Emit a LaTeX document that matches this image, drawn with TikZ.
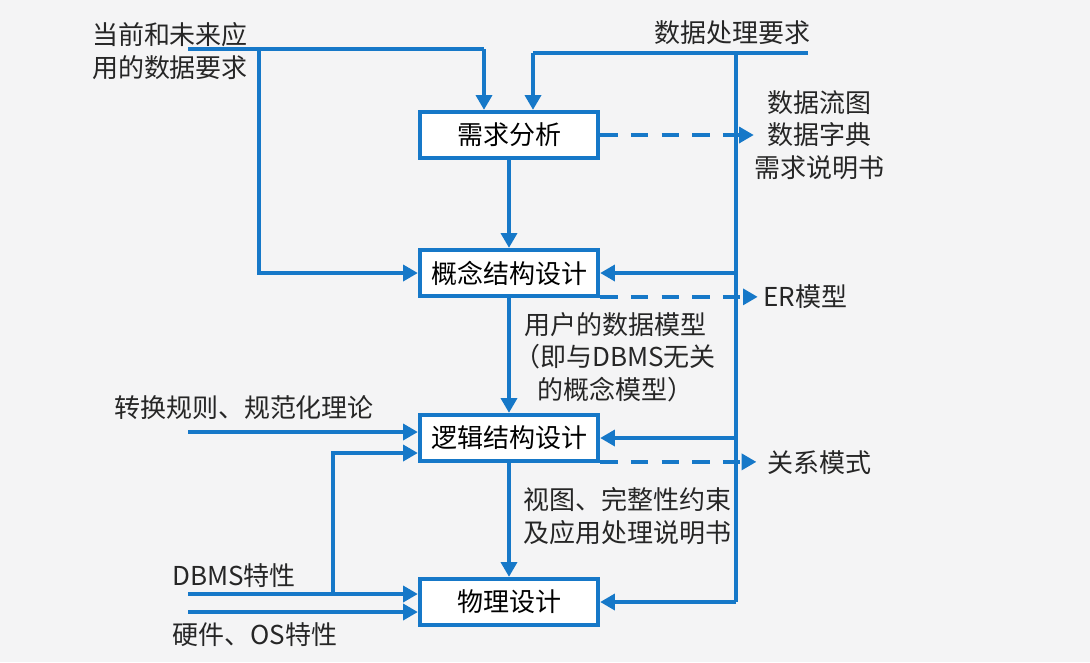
\documentclass[tikz,border=0pt]{standalone}
\usepackage{fontspec}
\setmainfont{Noto Sans CJK SC}
\usetikzlibrary{arrows.meta}
\definecolor{lb}{RGB}{22,120,200}
\definecolor{bg}{RGB}{244,244,245}
\begin{document}
\begin{tikzpicture}[x=0.75pt,y=-0.75pt,
  font=\fontsize{19.5pt}{24.5pt}\selectfont,
  stage/.style={draw=lb,line width=2.8pt,fill=white,minimum width=134pt,minimum height=35pt,inner sep=0pt},
  wire/.style={draw=lb,line width=2.5pt},
  flow/.style={wire,-{Triangle[length=11pt,width=12pt]}},
  outp/.style={flow,dash pattern=on 13pt off 10pt},
  lbl/.style={inner sep=0pt,text=black!85}]
\fill[bg] (0,0) rectangle (1090,662);
\useasboundingbox (0,0) rectangle (1090,662);

% coordinates for free ends / bends
\coordinate (a0) at (188,49);
\coordinate (ka) at (484,49);
\coordinate (kb) at (259,49);
\coordinate (b0) at (808,53);
\coordinate (kc) at (533,53);
\coordinate (kd) at (736,53);
\coordinate (c1) at (188,432);
\coordinate (c2) at (188,594);
\coordinate (c3) at (333,594);
\coordinate (c4) at (333,453);
\coordinate (c5) at (188,612);

% stages
\node[stage] (req) at (509,135) {需求分析};
\node[stage] (con) at (509,273) {概念结构设计};
\node[stage] (log) at (509,438) {逻辑结构设计};
\node[stage] (phy) at (509,602) {物理设计};

% labels
\node[lbl,align=left] (t1) at (170,51) {当前和未来应\\用的数据要求};
\node[lbl] (t2) at (732,33) {数据处理要求};
\node[lbl,align=center] (o1) at (819,135) {数据流图\\数据字典\\需求说明书};
\node[lbl,anchor=west] (o2) at (763,297) {ER模型};
\node[lbl,anchor=west] (o3) at (767,463) {关系模式};
\node[lbl,align=center] (m1) at (615,357) {用户的数据模型\\（即与DBMS无关\\的概念模型）};
\node[lbl,align=left] (m2) at (627,516) {视图、完整性约束\\及应用处理说明书};
\node[lbl] (i1) at (244,408) {转换规则、规范化理论};
\node[lbl,anchor=west] (i2) at (172,576) {DBMS特性};
\node[lbl,anchor=west] (i3) at (172,635) {硬件、OS特性};

% plain wires
\draw[wire] (a0) -- (ka);
\draw[wire] (b0) -- (kc);
\draw[wire] (kd) -- (kd |- phy.east);

% connectors
\draw[flow] (ka) -- (ka |- req.north);
\draw[flow] (kb) |- (con.west);
\draw[flow] (kc) -- (kc |- req.north);
\draw[flow] (kd |- con.east) -- (con.east);
\draw[flow] (kd |- log.east) -- (log.east);
\draw[flow] (kd |- phy.east) -- (phy.east);
\draw[flow] (req) -- (con);
\draw[flow] (con) -- (log);
\draw[flow] (log) -- (phy);
\draw[flow] (c1) -- (c1 -| log.west);
\draw[flow] (c3) -- (c4) -- (c4 -| log.west);
\draw[flow] (c2) -- (c2 -| phy.west);
\draw[flow] (c5) -- (c5 -| phy.west);

% outputs (dashed)
\draw[outp] (req.east) -- (req.east -| o1.west);
\draw[outp,shorten >=4pt] ([yshift=1pt]con.south east) -- ([yshift=1pt]con.south east -| o2.west);
\draw[outp,shorten >=8pt] ([yshift=1pt]log.south east) -- ([yshift=1pt]log.south east -| o3.west);
\end{tikzpicture}
\end{document}
